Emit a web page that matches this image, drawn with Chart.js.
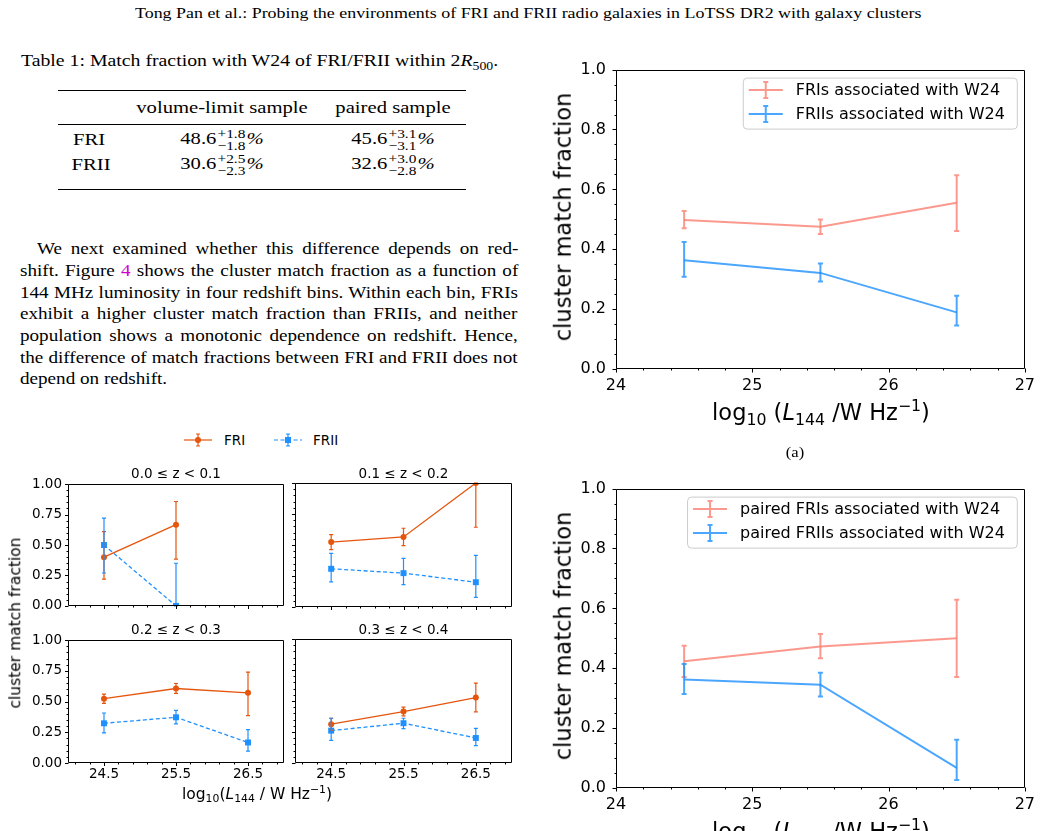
<!DOCTYPE html>
<html lang="en">
<head>
<meta charset="UTF-8">
<title>FRI / FRII cluster match fraction</title>
<script src="https://cdn.jsdelivr.net/npm/chart.js"></script>
<style>
  body { margin:0; width:1042px; height:831px; overflow:hidden; background:#fff; position:relative; color:#000; font-family:"Liberation Serif", serif; }
  canvas { position:absolute; }
  .abs { position:absolute; white-space:nowrap; line-height:20px; }
  .c { position:absolute; white-space:nowrap; line-height:1; transform:translate(-50%,-50%); }
  .sx { transform:translate(-50%,-50%) scaleX(1.18); }
  .serif { font-family:"Liberation Serif", serif; font-size:17.5px; }
  .sans { font-family:"DejaVu Sans", sans-serif; }
  .rule { position:absolute; left:58px; width:408px; height:0; border-top:1px solid #000; }
  .pm { display:inline-flex; flex-direction:column; font-size:13px; line-height:11.5px; vertical-align:middle; position:relative; top:-1px; margin:0 1px 0 1px; }
  sub, sup { font-size:70%; line-height:0; position:relative; vertical-align:baseline; }
  sub { top:0.3em; }
  sup { top:-0.55em; }
  .link { color:#d000d0; }
</style>
</head>
<body>

<div class="abs serif" style="left:135px;top:3px;font-size:14.5px" data-fit="787">Tong Pan et al.: Probing the environments of FRI and FRII radio galaxies in LoTSS DR2 with galaxy clusters</div>

<div class="abs serif" style="left:21px;top:50px" data-fit="477">Table 1: Match fraction with W24 of FRI/FRII within 2<i>R</i><sub>500</sub>.</div>

<div class="rule" style="top:90px"></div>
<div class="c sx serif" style="left:222px;top:108px">volume-limit sample</div>
<div class="c sx serif" style="left:393px;top:108px">paired sample</div>
<div class="rule" style="top:124px"></div>
<div class="c sx serif" style="left:89px;top:140px">FRI</div>
<div class="c sx serif" style="left:222px;top:140px">48.6<span class="pm"><span>+1.8</span><span>−1.8</span></span><i>%</i></div>
<div class="c sx serif" style="left:393px;top:140px">45.6<span class="pm"><span>+3.1</span><span>−3.1</span></span><i>%</i></div>
<div class="c sx serif" style="left:91px;top:165px">FRII</div>
<div class="c sx serif" style="left:222px;top:165px">30.6<span class="pm"><span>+2.5</span><span>−2.3</span></span><i>%</i></div>
<div class="c sx serif" style="left:393px;top:165px">32.6<span class="pm"><span>+3.0</span><span>−2.8</span></span><i>%</i></div>
<div class="rule" style="top:189px"></div>

<div class="abs serif line" style="left:37px;top:238px" data-just="481">We next examined whether this difference depends on red-</div>
<div class="abs serif line" style="left:20px;top:260px" data-just="498">shift. Figure <span class="link">4</span> shows the cluster match fraction as a function of</div>
<div class="abs serif line" style="left:20px;top:282px" data-just="498">144 MHz luminosity in four redshift bins. Within each bin, FRIs</div>
<div class="abs serif line" style="left:20px;top:303px" data-just="498">exhibit a higher cluster match fraction than FRIIs, and neither</div>
<div class="abs serif line" style="left:20px;top:325px" data-just="498">population shows a monotonic dependence on redshift. Hence,</div>
<div class="abs serif line" style="left:20px;top:347px" data-just="498">the difference of match fractions between FRI and FRII does not</div>
<div class="abs serif line" style="left:20px;top:368px" data-just="0">depend on redshift.</div>

<!-- (a) -->
<canvas id="chartA" width="512" height="385" style="left:530px;top:50px"></canvas>
<div class="c sans" style="left:563px;top:216.5px;font-size:22.5px;transform:translate(-50%,-50%) rotate(-90deg)">cluster match fraction</div>
<div class="c sans" style="left:821px;top:412px;font-size:22.5px">log<sub>10</sub> (<i>L</i><sub>144</sub> /W Hz<sup>−1</sup>)</div>
<div class="c sx serif" style="left:795px;top:453px;font-size:14px">(a)</div>

<!-- (b) -->
<canvas id="chartB" width="512" height="362" style="left:530px;top:469px"></canvas>
<div class="c sans" style="left:563px;top:635.5px;font-size:22.5px;transform:translate(-50%,-50%) rotate(-90deg)">cluster match fraction</div>
<div class="c sans" style="left:821px;top:831px;font-size:22.5px">log<sub>10</sub> (<i>L</i><sub>144</sub> /W Hz<sup>−1</sup>)</div>

<!-- redshift bins -->
<canvas id="legFRI" width="30" height="16" style="left:183px;top:432px"></canvas>
<div class="abs sans" style="left:224px;top:430px;font-size:13.5px">FRI</div>
<canvas id="legFRII" width="30" height="16" style="left:273px;top:432px"></canvas>
<div class="abs sans" style="left:313px;top:430px;font-size:13.5px">FRII</div>

<canvas id="z1" width="292" height="150" style="left:0px;top:470px"></canvas>
<canvas id="z2" width="235" height="150" style="left:285px;top:470px"></canvas>
<canvas id="z3" width="292" height="170" style="left:0px;top:626px"></canvas>
<canvas id="z4" width="235" height="170" style="left:285px;top:626px"></canvas>
<div class="c sans zt" style="left:176px;top:474px;font-size:13.5px"></div>
<div class="c sans zt" style="left:403.5px;top:474px;font-size:13.5px"></div>
<div class="c sans zt" style="left:176px;top:630px;font-size:13.5px"></div>
<div class="c sans zt" style="left:403.5px;top:630px;font-size:13.5px"></div>
<div class="c sans" style="left:16px;top:623px;font-size:15.5px;transform:translate(-50%,-50%) rotate(-90deg)">cluster match fraction</div>
<div class="c sans" style="left:257px;top:795px;font-size:15.5px">log<sub>10</sub>(<i>L</i><sub>144</sub> / W Hz<sup>−1</sup>)</div>

<script>
  // luminosity bins, log10(L144 / W Hz^-1)
  const lumBins = [24.5, 25.5, 26.5];

  // (a) volume-limited sample
  const friA = [0.498, 0.475, 0.555];
  const friALo = [0.470, 0.451, 0.461];
  const friAHi = [0.528, 0.499, 0.647];
  const friiA = [0.363, 0.321, 0.189];
  const friiALo = [0.308, 0.292, 0.145];
  const friiAHi = [0.424, 0.352, 0.245];

  // (b) paired sample
  const friB = [0.423, 0.473, 0.500];
  const friBLo = [0.371, 0.433, 0.371];
  const friBHi = [0.475, 0.514, 0.629];
  const friiB = [0.362, 0.345, 0.067];
  const friiBLo = [0.314, 0.306, 0.027];
  const friiBHi = [0.414, 0.385, 0.161];

  // redshift bins
  const zLabels = ['0.0 ≤ z < 0.1', '0.1 ≤ z < 0.2', '0.2 ≤ z < 0.3', '0.3 ≤ z < 0.4'];
  const friZ = [[0.400, 0.667, null], [0.524, 0.565, 1.000], [0.523, 0.606, 0.571], [0.313, 0.415, 0.528]];
  const friZLo = [[0.220, 0.384, null], [0.462, 0.495, 0.643], [0.485, 0.566, 0.385], [0.264, 0.380, 0.412]];
  const friZHi = [[0.610, 0.857, null], [0.584, 0.635, 1.000], [0.561, 0.647, 0.739], [0.361, 0.450, 0.644]];
  const friiZ = [[0.500, 0.000, null], [0.308, 0.273, 0.200], [0.323, 0.372, 0.167], [0.261, 0.321, 0.202]];
  const friiZLo = [[0.270, 0.000, null], [0.203, 0.181, 0.078], [0.245, 0.318, 0.097], [0.183, 0.278, 0.140]];
  const friiZHi = [[0.720, 0.350, null], [0.432, 0.392, 0.416], [0.407, 0.429, 0.272], [0.361, 0.361, 0.280]];

  const salmon = 'rgba(250,128,114,0.8)';
  const skyblue = 'rgba(30,144,255,0.8)';
  const orange = '#e6550d';
  const blue = '#1e90ff';

  Chart.defaults.font.family = 'DejaVu Sans';
  Chart.defaults.color = '#000';

  // page text: fit header / caption, justify paragraph lines
  document.querySelectorAll('[data-fit]').forEach(el => {
    el.style.transformOrigin = 'left center';
    el.style.transform = 'scaleX(' + (+el.dataset.fit / el.offsetWidth) + ')';
  });
  const lines = Array.from(document.querySelectorAll('[data-just]'));
  const paraScale = Math.min(...lines.filter(el => +el.dataset.just > 0)
    .map(el => (+el.dataset.just - 3) / el.offsetWidth));
  lines.forEach(el => {
    const target = +el.dataset.just;
    if (target > 0) {
      const spaces = (el.textContent.match(/ /g) || []).length;
      el.style.wordSpacing = ((target / paraScale - el.offsetWidth) / spaces) + 'px';
    }
    el.style.transformOrigin = 'left center';
    el.style.transform = 'scaleX(' + paraScale + ')';
  });
  document.querySelectorAll('.zt').forEach((el, i) => { el.textContent = zLabels[i]; });

  function pts(vals) {
    return lumBins.map((x, i) => ({ x: x, y: vals[i] }));
  }

  // vertical error bars with caps
  const errorBars = {
    id: 'errorBars',
    afterDatasetsDraw(chart) {
      const { ctx, chartArea: a, scales: { x, y } } = chart;
      ctx.save();
      ctx.beginPath();
      ctx.rect(a.left - 1, a.top - 1, a.width + 2, a.height + 2);
      ctx.clip();
      chart.data.datasets.forEach(ds => {
        if (!ds.errLo) return;
        ctx.strokeStyle = ds.borderColor;
        ctx.lineWidth = ds.errWidth;
        ctx.setLineDash([]);
        ds.data.forEach((p, i) => {
          if (p.y == null) return;
          const px = x.getPixelForValue(p.x);
          const y0 = y.getPixelForValue(ds.errLo[i]);
          const y1 = y.getPixelForValue(ds.errHi[i]);
          ctx.beginPath();
          ctx.moveTo(px, y0); ctx.lineTo(px, y1);
          ctx.moveTo(px - ds.cap, y0); ctx.lineTo(px + ds.cap, y0);
          ctx.moveTo(px - ds.cap, y1); ctx.lineTo(px + ds.cap, y1);
          ctx.stroke();
        });
      });
      ctx.restore();
    }
  };

  // box frame + outward major/minor ticks, matplotlib style
  const axisFrame = {
    id: 'axisFrame',
    afterDraw(chart, args, o) {
      const { ctx, chartArea: a, scales: { x, y } } = chart;
      const L = Math.round(a.left) + 0.5, R = Math.round(a.right) - 0.5;
      const T = Math.round(a.top) + 0.5, B = Math.round(a.bottom) - 0.5;
      const minors = (scale, m, maj) => {
        const out = [];
        for (let k = Math.ceil((scale.min - m.origin) / m.step - 1e-9); ; k++) {
          const v = m.origin + k * m.step;
          if (v > scale.max + 1e-9) break;
          if (!maj.some(j => Math.abs(j - v) < 1e-6)) out.push(v);
        }
        return out;
      };
      const majX = x.ticks.map(t => t.value);
      const majY = y.ticks.map(t => t.value);
      ctx.save();
      ctx.strokeStyle = '#000';
      ctx.lineWidth = 1;
      ctx.beginPath();
      ctx.rect(L, T, R - L, B - T);
      const xt = (v, len) => { const p = Math.round(x.getPixelForValue(v)) + 0.5; ctx.moveTo(p, B); ctx.lineTo(p, B + len); };
      const yt = (v, len) => { const p = Math.round(y.getPixelForValue(v)) + 0.5; ctx.moveTo(L, p); ctx.lineTo(L - len, p); };
      majX.forEach(v => xt(v, o.major));
      minors(x, o.xMinor, majX).forEach(v => xt(v, o.minor));
      majY.forEach(v => yt(v, o.major));
      minors(y, o.yMinor, majY).forEach(v => yt(v, o.minor));
      ctx.stroke();
      ctx.restore();
    }
  };

  // legend box inside the top right corner of the axes
  const boxLegend = {
    id: 'boxLegend',
    afterDraw(chart, args, o) {
      if (!o.show) return;
      const { ctx, chartArea: a } = chart;
      const sets = chart.data.datasets;
      ctx.save();
      ctx.font = o.font;
      const tw = Math.max(...sets.map(s => ctx.measureText(s.label).width));
      const w = 53 + tw + 12, h = 51;
      const bx = a.right - 8 - w, by = a.top + 8;
      ctx.beginPath();
      ctx.roundRect(bx + 0.5, by + 0.5, w, h, 4);
      ctx.fillStyle = 'rgba(255,255,255,0.8)';
      ctx.fill();
      ctx.strokeStyle = '#cccccc';
      ctx.lineWidth = 1;
      ctx.stroke();
      sets.forEach((s, i) => {
        const cy = by + 12.5 + i * 24;
        ctx.strokeStyle = s.borderColor;
        ctx.lineWidth = 2;
        ctx.beginPath();
        ctx.moveTo(bx + 6, cy); ctx.lineTo(bx + 40, cy);
        ctx.moveTo(bx + 23, cy - 8); ctx.lineTo(bx + 23, cy + 8);
        ctx.moveTo(bx + 20.5, cy - 8); ctx.lineTo(bx + 25.5, cy - 8);
        ctx.moveTo(bx + 20.5, cy + 8); ctx.lineTo(bx + 25.5, cy + 8);
        ctx.stroke();
        ctx.fillStyle = '#000';
        ctx.textBaseline = 'middle';
        ctx.fillText(s.label, bx + 53, cy + 1);
      });
      ctx.restore();
    }
  };

  function bigChart(id, sets, xH) {
    const font = { family: 'DejaVu Sans', size: 16 };
    new Chart(document.getElementById(id), {
      type: 'line',
      data: {
        datasets: sets.map(s => ({
          label: s.label, data: pts(s.y), errLo: s.lo, errHi: s.hi,
          borderColor: s.color, backgroundColor: s.color,
          borderWidth: 2, pointRadius: 0, cap: 2.5, errWidth: 2, clip: 0
        }))
      },
      options: {
        responsive: false, animation: false, events: [],
        layout: { padding: { left: 0, right: 16, top: 14, bottom: 0 } },
        plugins: {
          legend: { display: false }, tooltip: { enabled: false },
          boxLegend: { show: true, font: '16px "DejaVu Sans"' },
          axisFrame: { major: 4, minor: 2, xMinor: { origin: 24, step: 0.2 }, yMinor: { origin: 0, step: 0.05 } }
        },
        scales: {
          x: {
            type: 'linear', min: 24, max: 27,
            ticks: { stepSize: 1, font: font, color: '#000', padding: 7 },
            grid: { display: false, drawTicks: false }, border: { display: false },
            afterFit: s => { s.height = xH; }
          },
          y: {
            min: 0, max: 1,
            ticks: { stepSize: 0.2, font: font, color: '#000', padding: 10, callback: v => v.toFixed(1) },
            grid: { display: false, drawTicks: false }, border: { display: false },
            afterFit: s => { s.width = 86; }
          }
        }
      },
      plugins: [errorBars, axisFrame, boxLegend]
    });
  }

  bigChart('chartA', [
    { label: 'FRIs associated with W24', y: friA, lo: friALo, hi: friAHi, color: salmon },
    { label: 'FRIIs associated with W24', y: friiA, lo: friiALo, hi: friiAHi, color: skyblue }
  ], 66);
  bigChart('chartB', [
    { label: 'paired FRIs associated with W24', y: friB, lo: friBLo, hi: friBHi, color: salmon },
    { label: 'paired FRIIs associated with W24', y: friiB, lo: friiBLo, hi: friiBHi, color: skyblue }
  ], 43);

  function zChart(id, k, showX, showY) {
    const font = { family: 'DejaVu Sans', size: 13.5 };
    const yW = showY ? 68 : 10;
    new Chart(document.getElementById(id), {
      type: 'line',
      data: {
        datasets: [
          {
            label: 'FRI', data: pts(friZ[k]), errLo: friZLo[k], errHi: friZHi[k],
            borderColor: orange, backgroundColor: orange, borderWidth: 1.3,
            pointStyle: 'circle', pointRadius: 3, pointBorderWidth: 0, pointBackgroundColor: orange,
            cap: 2, errWidth: 1.2, clip: 0
          },
          {
            label: 'FRII', data: pts(friiZ[k]), errLo: friiZLo[k], errHi: friiZHi[k],
            borderColor: blue, backgroundColor: blue, borderWidth: 1.3, borderDash: [4, 2.5],
            pointStyle: 'rect', pointRadius: 4.2, pointBorderWidth: 0, pointBackgroundColor: blue,
            cap: 2, errWidth: 1.2, clip: 0
          }
        ]
      },
      options: {
        responsive: false, animation: false, events: [],
        layout: { padding: { left: 0, right: 8, top: 13, bottom: 0 } },
        plugins: {
          legend: { display: false }, tooltip: { enabled: false },
          axisFrame: { major: 3.5, minor: 2, xMinor: { origin: 24.5, step: 0.2 }, yMinor: { origin: 0, step: 0.05 } }
        },
        scales: {
          x: {
            type: 'linear', min: 24, max: 27,
            afterBuildTicks: s => { s.ticks = lumBins.map(v => ({ value: v })); },
            ticks: { display: showX, font: font, color: '#000', padding: 3, callback: v => v.toFixed(1) },
            grid: { display: false, drawTicks: false }, border: { display: false },
            afterFit: s => { s.height = showX ? 33 : 13; }
          },
          y: {
            min: 0, max: 1,
            ticks: { display: showY, stepSize: 0.25, font: font, color: '#000', padding: 6, callback: v => v.toFixed(2) },
            grid: { display: false, drawTicks: false }, border: { display: false },
            afterFit: s => { s.width = yW; }
          }
        }
      },
      plugins: [errorBars, axisFrame]
    });
  }

  zChart('z1', 0, false, true);
  zChart('z2', 1, false, false);
  zChart('z3', 2, true, true);
  zChart('z4', 3, true, false);

  // shared legend handles for the redshift panels
  function legendIcon(id, color, square) {
    const ctx = document.getElementById(id).getContext('2d');
    ctx.strokeStyle = color;
    ctx.fillStyle = color;
    ctx.lineWidth = 1.2;
    ctx.setLineDash(square ? [4, 2.5] : []);
    ctx.beginPath(); ctx.moveTo(1, 8); ctx.lineTo(29, 8); ctx.stroke();
    ctx.setLineDash([]);
    ctx.beginPath();
    ctx.moveTo(15, 2); ctx.lineTo(15, 14);
    ctx.moveTo(13, 2); ctx.lineTo(17, 2);
    ctx.moveTo(13, 14); ctx.lineTo(17, 14);
    ctx.stroke();
    ctx.beginPath();
    if (square) ctx.rect(12, 5, 6, 6); else ctx.arc(15, 8, 3, 0, Math.PI * 2);
    ctx.fill();
  }
  legendIcon('legFRI', orange, false);
  legendIcon('legFRII', blue, true);
</script>
</body>
</html>
